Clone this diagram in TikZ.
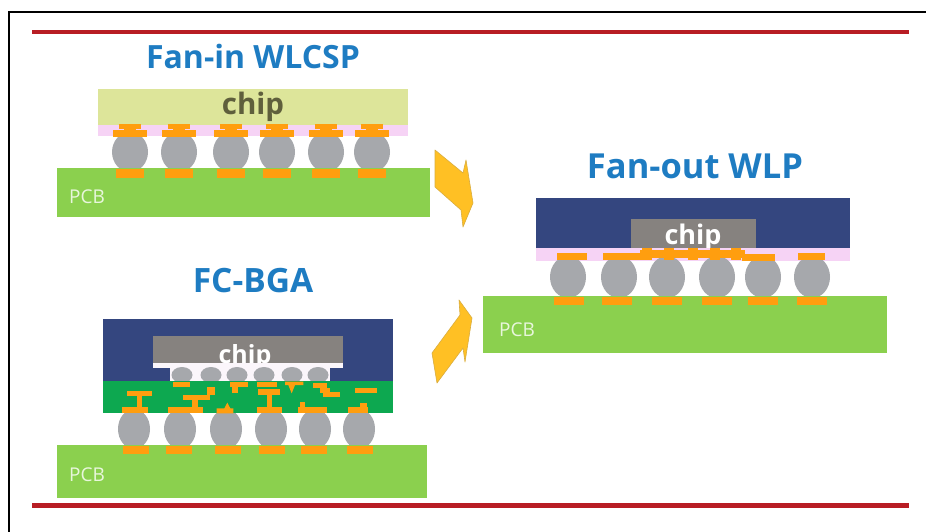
\documentclass[tikz,border=0pt]{standalone}
\usepackage{fontspec}
\setmainfont{Open Sans}
\definecolor{redline}{HTML}{B81D24}
\definecolor{pcbgreen}{HTML}{8BD04E}
\definecolor{chipyel}{HTML}{DDE59A}
\definecolor{pinkb}{HTML}{F6D3F5}
\definecolor{ballgr}{HTML}{A6A8AC}
\definecolor{padorg}{HTML}{FF9E0F}
\definecolor{navy}{HTML}{34467F}
\definecolor{chipgr}{HTML}{86827F}
\definecolor{subgreen}{HTML}{0DA850}
\definecolor{titleblue}{HTML}{1E7CC2}
\definecolor{arrowyel}{HTML}{FFC024}
\definecolor{chipdark}{HTML}{5F5F3C}
\definecolor{softwhite}{HTML}{FBF6FB}
\tikzset{
  titletext/.style={font=\fontsize{#1}{36}\selectfont\bfseries,text=titleblue,inner sep=0pt},
  chiptext/.style={font=\fontsize{#1}{32}\selectfont\bfseries,text=white,inner sep=0pt},
  pcbtext/.style={font=\fontsize{19}{22}\selectfont,text=white!80!pcbgreen,inner sep=0pt},
  trace/.style={fill=padorg},
  ballfill/.style={fill=ballgr},
  chevron/.style={fill=arrowyel,draw=arrowyel!70!gray,line width=0.6pt,line join=round}
}
\newcommand{\Rc}[5]{\fill[#1] (#2,#3) rectangle (#4,#5);}
\begin{document}
\begin{tikzpicture}[x=1pt,y=-1pt]
\useasboundingbox (0,0) rectangle (926,532);
\fill[white] (0,0) rectangle (926,532);
% frame
\draw[black,line width=2pt] (926,12) -- (9,12) -- (9,532);
% red rules
\fill[redline] (32,30) rectangle (909,34.5);
\fill[redline] (32,503) rectangle (909,507.5);

% ---- Fan-in WLCSP
\node[titletext=32] (t1) at (253,57) {Fan-in WLCSP};
\Rc{chipyel}{98}{89}{408}{125}
\Rc{pinkb}{98}{125}{408}{136}
\foreach \x in {130,179,231,277,326,372}{
  \fill[ballfill] (\x,152) ellipse [x radius=18,y radius=20];
}
\Rc{pcbgreen}{57}{168}{430}{217}
\foreach \x in {130,179,231,277,326,372}{
  \Rc{padorg}{\x-17}{130.5}{\x+17}{137}
  \Rc{padorg}{\x-11}{124}{\x+11}{129}
  \Rc{padorg}{\x-6}{128}{\x+6}{131}
  \Rc{padorg}{\x-14}{169}{\x+14}{178}
}
\node[chiptext=29.5,text=chipdark] (c1) at (253,107) {chip};
\node[pcbtext] (p1) at (87,197) {PCB};

% ---- FC-BGA
\node[titletext=33.5] (t2) at (253,281) {FC-BGA};
\Rc{navy}{103}{319}{393}{382}
\Rc{chipgr}{153}{336}{343}{363}
\node[chiptext=25] (c2) at (245,357) {chip};
\Rc{softwhite}{153}{363}{343}{368}
\Rc{softwhite}{170}{368}{330}{382}
\foreach \x in {182,211,237,264,292,318}{
  \fill[ballfill] (\x,375) ellipse [x radius=10.5,y radius=8];
}
\foreach \x in {134,180,226,271,315,359}{
  \fill[ballfill] (\x,429) ellipse [x radius=16,y radius=20];
}
\Rc{subgreen}{103}{381}{393}{413}
\Rc{pcbgreen}{57}{445}{427}{498}
\foreach \x in {136,179,228,272,314,360}{
  \Rc{padorg}{\x-13}{446}{\x+13}{454}
}
\begin{scope}[shift={(40,300)},scale=0.33333]
  \Rc{trace}{262}{272}{335}{288}\Rc{trace}{290}{288}{307}{325}\Rc{trace}{245}{322}{325}{340}
  \Rc{trace}{400}{245}{450}{262}
  \Rc{trace}{385}{322}{490}{340}\Rc{trace}{455}{295}{475}{325}\Rc{trace}{430}{285}{510}{300}\Rc{trace}{500}{260}{525}{285}
  \Rc{trace}{570}{245}{625}{262}\Rc{trace}{575}{262}{595}{280}
  \fill[trace] (530,340) -- (530,325) -- (553,325) -- (562,308) -- (571,325) -- (580,325) -- (580,340) -- cycle;
  \Rc{trace}{650}{245}{710}{262}
  \Rc{trace}{655}{268}{720}{285}\Rc{trace}{680}{285}{697}{325}\Rc{trace}{650}{322}{725}{340}
  \fill[trace] (735,245) -- (790,245) -- (790,255) -- (765,255) -- (755,280) -- (745,255) -- (735,255) -- cycle;
  \Rc{trace}{775}{322}{860}{340}\Rc{trace}{780}{305}{795}{322}
  \Rc{trace}{820}{250}{860}{265}\Rc{trace}{840}{265}{870}{278}\Rc{trace}{850}{276}{900}{292}
  \Rc{trace}{945}{265}{1012}{280}
  \Rc{trace}{925}{322}{985}{340}\Rc{trace}{960}{310}{980}{325}
\end{scope}
\node[pcbtext] (p2) at (87,475) {PCB};

% ---- Fan-out WLP
\node[titletext=34.5] (t3) at (695,166) {Fan-out WLP};
\Rc{navy}{536}{198}{850}{248}
\Rc{chipgr}{631}{219}{756}{248}
\node[chiptext=27] (c3) at (693,237) {chip};
\Rc{pinkb}{536}{248}{850}{261}
\foreach \x in {568,619,667,717,763,812}{
  \fill[ballfill] (\x,277) ellipse [x radius=18,y radius=21];
}
\Rc{pcbgreen}{483}{296}{887}{353}
\Rc{padorg}{557}{253}{587}{260}
\Rc{padorg}{603}{253}{645}{260}
\Rc{padorg}{742}{254}{775}{261}
\Rc{padorg}{798}{253}{825}{260}
\Rc{padorg}{640}{250}{745}{258}
\foreach \x in {647,669,693,715,736}{
  \Rc{padorg}{\x-5}{248}{\x+5}{260}
}
\foreach \x in {569,617,667,717,763,812}{
  \Rc{padorg}{\x-15}{297}{\x+15}{305}
}
\node[pcbtext] (p3) at (517,330) {PCB};

% ---- chevrons
\fill[chevron] (435,150) -- (463,173) -- (466,160) -- (473,203) -- (463,227) -- (461,210) -- (435,187) -- cycle;
\fill[chevron] (459,300) -- (472,318) -- (465,362) -- (463,348) -- (437,383) -- (432,353) -- (460,315) -- cycle;
\end{tikzpicture}
\end{document}
